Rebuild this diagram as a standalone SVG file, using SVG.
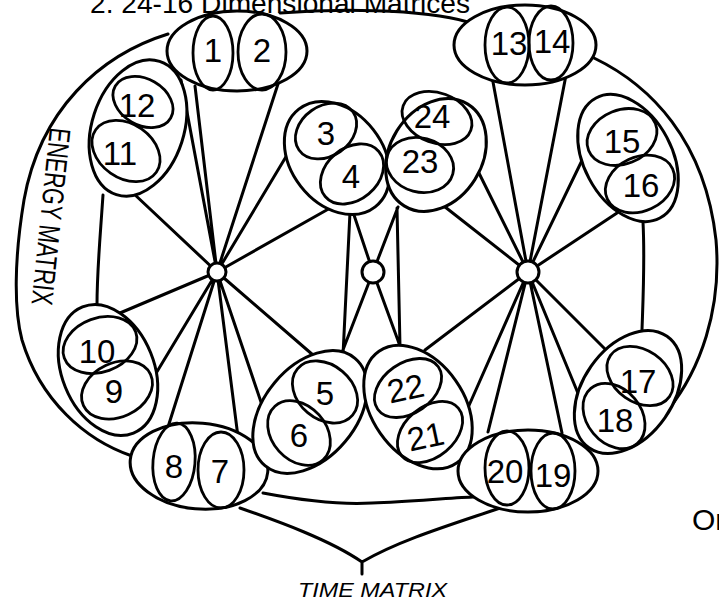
<svg xmlns="http://www.w3.org/2000/svg" width="719" height="601" viewBox="0 0 719 601">
<style>
.ln{fill:none;stroke:#000;stroke-width:3;stroke-linecap:round;stroke-linejoin:round}
.out{fill:#fff;stroke:#000;stroke-width:3}
.in{fill:none;stroke:#000;stroke-width:2.8}
.hub{fill:#fff;stroke:#000;stroke-width:3}
.num{font-family:"Liberation Sans",Arial,sans-serif;font-size:33px;text-anchor:middle;fill:#000}
.lab{font-family:"Liberation Sans",Arial,sans-serif;fill:#000}
</style>
<rect width="719" height="601" fill="#fff"/>
<text class="lab" x="90" y="13" font-size="28" textLength="380" lengthAdjust="spacingAndGlyphs">2.  24-16 Dimensional Matrices</text>
<text class="lab" x="692" y="530" font-size="30">Or</text>

<g id="connectors">
<path class="ln" d="M168,34 C100,55 40,110 24,200 C14,260 14,310 22,340 C40,400 85,440 132,456"/>
<path class="ln" d="M280,13 C330,9 420,8 468,22"/>
<path class="ln" d="M594,58 C650,85 705,140 716,240 C722,310 700,370 668,410"/>
<path class="ln" d="M263,493 C300,500 340,505 372,503 C410,502 445,498 473,497"/>
<path class="ln" d="M103,195 C100,240 97,270 97,305"/>
<path class="ln" d="M643,222 C645,260 643,300 642,330"/>
<path class="ln" d="M240,508 C280,522 330,540 362,562 M500,508 C450,525 400,540 362,562 M362,562 L362,574"/>
<path class="ln" d="M217,272 L195,86 M217,272 L278,84 M217,272 L181,80 M217,272 L133,193 M217,272 L290,150 M217,272 L332,207 M217,272 L120,313 M217,272 L155,375 M217,272 L168,427 M217,272 L238,437 M217,272 L263,408 M217,272 L313,355"/>
<path class="ln" d="M353,212 L373,272 L400,346 M398,207 L373,272 L341,355 M350,212 L343,355 M397,208 L400,346"/>
<path class="ln" d="M528,272 L493,82 M528,272 L567,70 M528,272 L588,148 M528,272 L617,213 M528,272 L470,155 M528,272 L440,203 M528,272 L425,350 M528,272 L467,410 M528,272 L488,432 M528,272 L562,433 M528,272 L582,403 M528,272 L608,352"/>
</g>

<g id="hub-left"><circle class="hub" cx="217" cy="272" r="9"/></g>
<g id="hub-middle"><circle class="hub" cx="373" cy="272" r="11"/></g>
<g id="hub-right"><circle class="hub" cx="528" cy="272" r="11"/></g>

<g id="node-1-2">
<ellipse class="out" cx="237" cy="51" rx="70" ry="40"/>
<ellipse class="in" cx="213" cy="53" rx="20" ry="37"/>
<ellipse class="in" cx="262" cy="52" rx="24" ry="38"/>
<text class="num" x="213" y="62">1</text>
<text class="num" x="262" y="62">2</text>
</g>

<g id="node-12-11">
<ellipse class="out" cx="138" cy="128" rx="46" ry="70" transform="rotate(18 138 128)"/>
<ellipse class="in" cx="143" cy="102" rx="32" ry="23" transform="rotate(30 143 102)"/>
<ellipse class="in" cx="126" cy="151" rx="37" ry="27" transform="rotate(35 126 151)"/>
<text class="num" x="137" y="117">12</text>
<text class="num" x="120" y="165">11</text>
</g>

<g id="node-3-4">
<ellipse class="out" cx="337" cy="158" rx="46" ry="62" transform="rotate(-38 337 158)"/>
<ellipse class="in" cx="326" cy="131" rx="33" ry="25" transform="rotate(-35 326 131)"/>
<ellipse class="in" cx="352" cy="174" rx="35" ry="26" transform="rotate(-40 352 174)"/>
<text class="num" x="326" y="145">3</text>
<text class="num" x="351" y="188">4</text>
</g>

<g id="node-24-23">
<ellipse class="out" cx="436" cy="155" rx="46" ry="60" transform="rotate(32 436 155)"/>
<ellipse class="in" cx="437" cy="118" rx="36" ry="25" transform="rotate(20 437 118)"/>
<ellipse class="in" cx="420" cy="165" rx="34" ry="27" transform="rotate(15 420 165)"/>
<text class="num" x="432" y="128">24</text>
<text class="num" x="420" y="173">23</text>
</g>

<g id="node-13-14">
<ellipse class="out" cx="525" cy="45" rx="71" ry="40"/>
<ellipse class="in" cx="507" cy="45" rx="22" ry="38"/>
<ellipse class="in" cx="551" cy="43" rx="22" ry="37"/>
<text class="num" x="509" y="55">13</text>
<text class="num" x="552" y="53">14</text>
</g>

<g id="node-15-16">
<ellipse class="out" cx="628" cy="158" rx="44" ry="68" transform="rotate(-28 628 158)"/>
<ellipse class="in" cx="622" cy="137" rx="36" ry="27" transform="rotate(-22 622 137)"/>
<ellipse class="in" cx="640" cy="184" rx="36" ry="27" transform="rotate(-25 640 184)"/>
<text class="num" x="622" y="153">15</text>
<text class="num" x="641" y="197">16</text>
</g>

<g id="node-10-9">
<ellipse class="out" cx="108" cy="370" rx="46" ry="68" transform="rotate(-22 108 370)"/>
<ellipse class="in" cx="100" cy="345" rx="38" ry="27" transform="rotate(-20 100 345)"/>
<ellipse class="in" cx="117" cy="390" rx="37" ry="27" transform="rotate(-25 117 390)"/>
<text class="num" x="97" y="363">10</text>
<text class="num" x="114" y="403">9</text>
</g>

<g id="node-8-7">
<ellipse class="out" cx="199" cy="466" rx="69" ry="43" transform="rotate(5 199 466)"/>
<ellipse class="in" cx="174" cy="462" rx="21" ry="39" transform="rotate(5 174 462)"/>
<ellipse class="in" cx="221" cy="470" rx="23" ry="38"/>
<text class="num" x="174" y="478">8</text>
<text class="num" x="220" y="483">7</text>
</g>

<g id="node-5-6">
<ellipse class="out" cx="310" cy="412" rx="46" ry="70" transform="rotate(40 310 412)"/>
<ellipse class="in" cx="325" cy="392" rx="36" ry="27" transform="rotate(40 325 392)"/>
<ellipse class="in" cx="299" cy="433" rx="36" ry="27" transform="rotate(48 299 433)"/>
<text class="num" x="325" y="405">5</text>
<text class="num" x="299" y="447">6</text>
</g>

<g id="node-22-21">
<ellipse class="out" cx="418" cy="407" rx="46" ry="68" transform="rotate(-35 418 407)"/>
<ellipse class="in" cx="408" cy="388" rx="37" ry="25" transform="rotate(-35 408 388)"/>
<ellipse class="in" cx="430" cy="432" rx="37" ry="25" transform="rotate(-40 430 432)"/>
<text class="num" x="406" y="400" transform="rotate(-12 406 390)">22</text>
<text class="num" x="426" y="448" transform="rotate(-12 426 438)">21</text>
</g>

<g id="node-20-19">
<ellipse class="out" cx="528" cy="471" rx="70" ry="41"/>
<ellipse class="in" cx="507" cy="468" rx="22" ry="37"/>
<ellipse class="in" cx="553" cy="471" rx="22" ry="38"/>
<text class="num" x="505" y="483">20</text>
<text class="num" x="553" y="487">19</text>
</g>

<g id="node-17-18">
<ellipse class="out" cx="628" cy="392" rx="45" ry="68" transform="rotate(35 628 392)"/>
<ellipse class="in" cx="640" cy="376" rx="36" ry="26" transform="rotate(35 640 376)"/>
<ellipse class="in" cx="614" cy="416" rx="36" ry="27" transform="rotate(50 614 416)"/>
<text class="num" x="638" y="393">17</text>
<text class="num" x="615" y="432">18</text>
</g>

<text class="lab" font-size="30" textLength="178" lengthAdjust="spacingAndGlyphs" transform="translate(50,127) rotate(96)">ENERGY MATRIX</text>
<text class="lab" x="298" y="597" font-size="20" font-style="italic" textLength="149" lengthAdjust="spacingAndGlyphs">TIME MATRIX</text>
</svg>
